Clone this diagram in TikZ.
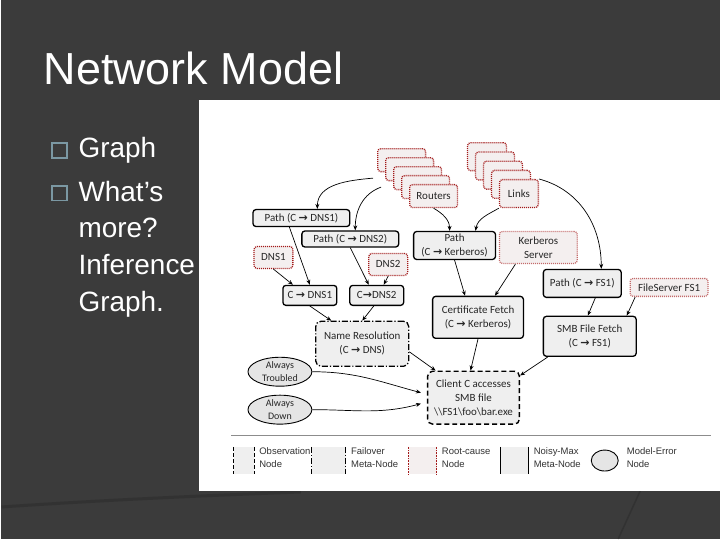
\documentclass[tikz,border=0pt]{standalone}
\usepackage{fontspec}
\setmainfont{Carlito}
\newfontfamily\slidefont{Liberation Sans}
\newfontfamily\symfont{DejaVu Sans}
\usetikzlibrary{positioning, shapes.geometric, arrows.meta}
\definecolor{slidebg}{HTML}{3B3B3B}
\definecolor{bulletblue}{HTML}{7B98A3}
\definecolor{nodegray}{HTML}{EFEFEF}
\definecolor{rootred}{HTML}{A31A1A}
\definecolor{rootfill}{HTML}{F4EFEF}
\definecolor{inktext}{HTML}{262626}
\newcommand{\arw}{{\symfont\bfseries →}}

\begin{document}
\begin{tikzpicture}[x=1pt, y=1pt, >={Stealth[length=5pt, width=4pt]},
  every node/.style={font=\fontsize{11}{14}\selectfont, text=inktext, align=center, inner sep=0pt},
  noisy/.style={draw, rounded corners=3pt, fill=nodegray, line width=1.3pt},
  root/.style={draw=rootred, dash pattern=on 1pt off 1pt, rounded corners=3pt, fill=rootfill, line width=1.3pt},
  failover/.style={draw, dash pattern=on 6pt off 2pt on 1.2pt off 2pt, rounded corners=5pt, fill=nodegray, line width=1.3pt},
  obs/.style={draw, dash pattern=on 5pt off 3pt, rounded corners=5pt, fill=nodegray, line width=1.4pt},
  merr/.style={draw, ellipse, fill=nodegray!96!black, line width=.9pt, inner sep=-3pt, font=\fontsize{10}{12.5}\selectfont},
  routerbox/.style={root, minimum width=48pt, minimum height=23pt},
  linkbox/.style={root, minimum width=39pt, minimum height=28pt},
  slide/.style={font=\slidefont\fontsize{28}{34}\selectfont, text=white, anchor=base west},
  legend/.style={font=\slidefont\fontsize{9.5}{13}\selectfont, text=black!80, align=left, yshift=3pt}
]
  % slide
  \fill[slidebg] (0,0) rectangle (720,-540);
  \draw[line width=3pt, slidebg!85!black] (0,-508) .. controls (120,-500) and (220,-496) .. (300,-493);
  \draw[line width=1.5pt, slidebg!85!black] (640,-492) -- (618,-540);
  \node[slide, font=\slidefont\fontsize{45}{54}\selectfont] (title) at (42,-85) {Network Model};
  \node[draw=bulletblue, line width=1.8pt, minimum size=15pt] (b1) at (58.5,-151) {};
  \node[draw=bulletblue, line width=1.8pt, minimum size=15pt] (b2) at (58.5,-193.5) {};
  \node[slide] (g1) at (77,-158) {Graph};
  \node[slide] (w1) at (77,-202) {What’s};
  \node[slide] (w2) at (77,-238) {more?};
  \node[slide] (w3) at (77,-275) {Inference};
  \node[slide] (w4) at (77,-312) {Graph.};

  % figure
  \fill[white] (198,-100) rectangle (720,-492);

  \node[routerbox] (1d) at (401,-160.5) {};
  \node[routerbox] (1c) at (409,-169.5) {};
  \node[routerbox] (1b) at (417,-178.5) {};
  \node[routerbox] (1a) at (425,-187.5) {};
  \node[routerbox] (1) at (433,-196.5) {Routers};
  \node[linkbox] (2d) at (486.5,-157) {};
  \node[linkbox] (2c) at (494.5,-166.25) {};
  \node[linkbox] (2b) at (502.5,-175.5) {};
  \node[linkbox] (2a) at (510.5,-184.75) {};
  \node[linkbox] (2) at (518.5,-194) {Links};

  \node[noisy, minimum width=97pt, minimum height=17pt] (3) at (300.5,-218.5) {Path (C \arw{} DNS1)};
  \node[noisy, minimum width=97pt, minimum height=16pt] (4) at (349.5,-239.5) {Path (C \arw{} DNS2)};
  \node[noisy, minimum width=82pt, minimum height=28pt] (5) at (454,-246) {Path\\(C \arw{} Kerberos)};
  \node[root, draw=rootred!65, minimum width=78pt, minimum height=32pt] (6) at (538,-248) {Kerberos\\Server};
  \node[root, minimum width=39pt, minimum height=22pt] (7) at (272.5,-258) {DNS1};
  \node[root, minimum width=39pt, minimum height=22pt] (8) at (387.5,-265) {DNS2};
  \node[noisy, minimum width=54pt, minimum height=20pt] (9) at (309,-296) {C \arw{} DNS1};
  \node[noisy, minimum width=54pt, minimum height=20pt] (10) [right of=9, node distance=67pt] {C\arw DNS2};
  \node[failover, minimum width=93pt, minimum height=45pt] (11) at (361.5,-344.5) {Name Resolution\\(C \arw{} DNS)};
  \node[noisy, minimum width=91pt, minimum height=42pt] (12) at (477.5,-318) {Certificate Fetch\\(C \arw{} Kerberos)};
  \node[noisy, minimum width=78pt, minimum height=28pt] (13) at (582,-284) {Path (C \arw{} FS1)};
  \node[root, draw=rootred!65, minimum width=78pt, minimum height=18pt] (14) at (669,-288) {FileServer FS1};
  \node[noisy, minimum width=93pt, minimum height=40pt] (15) at (589.5,-337) {SMB File Fetch\\(C \arw{} FS1)};
  \node[merr, minimum width=64pt, minimum height=29pt] (16) at (279,-372.5) {Always\\Troubled};
  \node[merr, minimum width=64pt, minimum height=29pt] (17) [below of=16, node distance=38pt] {Always\\Down};
  \node[obs, minimum width=92pt, minimum height=53pt] (18) at (473,-398.5) {Client C accesses\\SMB file\\\textbackslash\textbackslash FS1\textbackslash foo\textbackslash bar.exe};

  \path[line width=.7pt]
  ([xshift=-20pt]1b.west) edge[out=185, in=90, ->] ([xshift=16pt]3.north)
  ([xshift=-20pt]1a.west) edge[out=200, in=90, ->] ([xshift=5pt]4.north)
  (1.south) edge[out=-30, in=90, ->] ([xshift=-5pt]5.north)
  (2.south west) edge[out=210, in=80, ->] ([xshift=21pt]5.north)
  (2.north east) edge[out=-15, in=90, ->] ([xshift=19pt]13.north)
  ([xshift=-12pt]3.south) edge[->] (9.north)
  (7.south) edge[->] ([xshift=-17pt]9.north)
  (4.south) edge[->] ([xshift=-8pt]10.north)
  (8.south) edge[->] ([xshift=7pt]10.north)
  (9.south) edge[->] ([xshift=-31pt]11.north)
  ([xshift=-3pt]10.south) edge[->] (11.north)
  (5.south) edge[->] ([xshift=-13pt]12.north)
  ([xshift=-23pt]6.south) edge[->] ([xshift=17pt]12.north)
  ([xshift=13pt]13.south) edge[->] ([xshift=-2pt]15.north)
  ([xshift=-34pt]14.south) edge[->] ([xshift=37pt]15.north)
  ([yshift=-8pt]11.east) edge[->] ([xshift=-38pt]18.north)
  (16.east) edge[out=0, in=165, ->] ([xshift=-6pt, yshift=5pt]18.west)
  (17.east) edge[out=0, in=195, ->] ([xshift=-6pt, yshift=-6pt]18.west)
  (12.south) edge[->] ([xshift=-3pt]18.north)
  ([xshift=-42pt]15.south) edge[->] ([yshift=-5pt]18.north east);

  % legend
  \draw[line width=1pt, black!45] (230,-436) -- (711,-436);
  \node[fill=nodegray, minimum width=20pt, minimum height=27pt] (l1) at (243,-461.5) {};
  \draw[line width=1pt, dash pattern=on 4pt off 2pt] (l1.north west) -- (l1.south west) (l1.north east) -- (l1.south east);
  \node[legend, right=5pt of l1] (t1) {Observation\\Node};
  \node[fill=nodegray, minimum width=34pt, minimum height=27pt] (l2) at (328,-461.5) {};
  \draw[line width=1pt, dash pattern=on 6pt off 2pt on 1pt off 2pt] (l2.north west) -- (l2.south west) (l2.north east) -- (l2.south east);
  \node[legend, right=5pt of l2] (t2) {Failover\\Meta-Node};
  \node[fill=rootfill, minimum width=28pt, minimum height=27pt] (l3) at (422,-461.5) {};
  \draw[line width=.8pt, rootred, dash pattern=on .8pt off .8pt] (l3.north west) -- (l3.south west) (l3.north east) -- (l3.south east);
  \node[legend, right=5pt of l3] (t3) {Root-cause\\Node};
  \node[fill=nodegray, minimum width=28pt, minimum height=27pt] (l4) at (514,-461.5) {};
  \draw[line width=1pt] (l4.north west) -- (l4.south west) (l4.north east) -- (l4.south east);
  \node[legend, right=5pt of l4] (t4) {Noisy-Max\\Meta-Node};
  \node[merr, inner sep=0pt, minimum width=27pt, minimum height=21pt] (l5) at (604.5,-461.5) {};
  \node[legend, right=8pt of l5] (t5) {Model-Error\\Node};
\end{tikzpicture}
\end{document}
